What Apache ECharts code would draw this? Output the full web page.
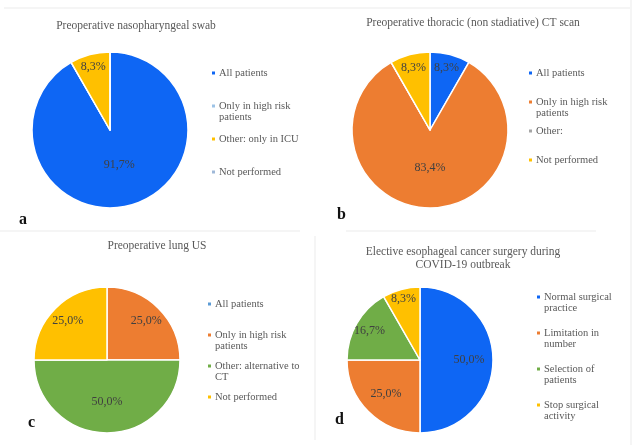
<!DOCTYPE html>
<html>
<head>
<meta charset="utf-8">
<script src="https://cdn.jsdelivr.net/npm/echarts@6/dist/echarts.min.js"></script>
<style>
html,body{margin:0;padding:0;background:#fff;}
#c{width:633px;height:445px;}
</style>
</head>
<body>
<div id="c"></div>
<script>
// ---- data ----
const titleA = 'Preoperative nasopharyngeal swab';
const catA = ['All patients', 'Only in high risk\npatients', 'Other: only in ICU', 'Not performed'];
const valA = [91.7, 0, 8.3, 0];

const titleB = 'Preoperative thoracic (non stadiative) CT scan';
const catB = ['All patients', 'Only in high risk\npatients', 'Other:', 'Not performed'];
const valB = [8.3, 83.4, 0, 8.3];

const titleC = 'Preoperative lung US';
const catC = ['All patients', 'Only in high risk\npatients', 'Other: alternative to\nCT', 'Not performed'];
const valC = [0, 25.0, 50.0, 25.0];

const titleD = 'Elective esophageal cancer surgery during\nCOVID-19 outbreak';
const catD = ['Normal surgical\npractice', 'Limitation in\nnumber', 'Selection of\npatients', 'Stop surgical\nactivity'];
const valD = [50.0, 25.0, 16.7, 8.3];

// ---- styling / layout ----
const FONT = '"Liberation Serif", "Times New Roman", serif';
const BLUE = '#0e66f4', ORANGE = '#ed7d31', YELLOW = '#ffc000', GREEN = '#70ad47';
const LH = 11; // legend line height
const panels = [
  {id: 'a', title: titleA, cats: catA, vals: valA,
   colors: [BLUE, '#9dc3e6', YELLOW, '#9fb8d8'],
   center: [110, 130], r: 78, labelFrac: [0.42, 0.5, 0.8, 0.5],
   legend: {left: 210, firstLine: 73, step: 33},
   titlePos: [136, 19], letter: 'a', letterPos: [19, 212]},
  {id: 'b', title: titleB, cats: catB, vals: valB,
   colors: [BLUE, ORANGE, '#a5a5a5', YELLOW],
   center: [430, 130], r: 78, labelFrac: [0.78, 0.45, 0.5, 0.78],
   legend: {left: 527, firstLine: 73, step: 29},
   titlePos: [473, 16], letter: 'b', letterPos: [337, 207]},
  {id: 'c', title: titleC, cats: catC, vals: valC,
   colors: ['#5b9bd5', ORANGE, GREEN, YELLOW],
   center: [107, 360], r: 73, labelFrac: [0.5, 0.72, 0.53, 0.72],
   legend: {left: 206, firstLine: 304, step: 31},
   titlePos: [157, 239], letter: 'c', letterPos: [28, 415]},
  {id: 'd', title: titleD, cats: catD, vals: valD,
   colors: [BLUE, ORANGE, GREEN, YELLOW],
   center: [420, 360], r: 73, labelFrac: [0.63, 0.62, 0.76, 0.83],
   legend: {left: 535, firstLine: 297, step: 36},
   titlePos: [463, 245], letter: 'd', letterPos: [335, 412]}
];

const fmtPct = v => v.toFixed(1).replace('.', ',') + '%';
const keyName = (p, c) => p.id + '|' + c;

const series = [];
const legends = [];
const graphics = [];

// visible pies first (legend colours come from these)
panels.forEach(p => {
  series.push({
    type: 'pie', silent: true, animation: false,
    center: p.center, radius: [0, p.r],
    startAngle: 90, clockwise: true,
    emphasis: {disabled: true},
    label: {show: false}, labelLine: {show: false},
    itemStyle: {borderColor: '#ffffff', borderWidth: 1.5},
    data: p.cats.map((c, i) => ({name: keyName(p, c), value: p.vals[i],
      itemStyle: {color: p.colors[i]}}))
  });
  // every legend item gets the same 3-line box, with its first text line level with the icon
  legends.push({
    orient: 'vertical', left: p.legend.left, top: p.legend.firstLine - 1.5 * LH,
    itemGap: p.legend.step - 3 * LH, itemWidth: 5, itemHeight: 5, icon: 'rect',
    padding: 0, selectedMode: false,
    data: p.cats.map(c => {
      const lines = c.split('\n').length;
      return {name: keyName(p, c), textStyle: {padding: [LH, 0, LH * (2 - lines), -2]}};
    }),
    formatter: n => n.split('|')[1].split('\n').map(s => '{t|' + s + '}').join('\n'),
    textStyle: {fontFamily: FONT, fontSize: 10.5, color: '#595959', lineHeight: LH,
      rich: {t: {fontFamily: FONT, fontSize: 10.5, color: '#595959', lineHeight: LH}}}
  });
});

// label-only pies (transparent), one per labelled slice
panels.forEach(p => {
  p.vals.forEach((v, k) => {
    if (!(v > 0)) return;
    series.push({
      type: 'pie', silent: true, animation: false,
      center: p.center, radius: [0, 2 * p.labelFrac[k] * p.r],
      startAngle: 90, clockwise: true,
      emphasis: {disabled: true},
      labelLine: {show: false},
      itemStyle: {color: 'rgba(0,0,0,0)', borderWidth: 0},
      data: p.cats.map((c, i) => ({
        name: keyName(p, c), value: p.vals[i],
        label: {show: i === k, position: 'inside',
          formatter: q => fmtPct(q.value),
          fontFamily: FONT, fontSize: 12, color: '#404040'}
      }))
    });
  });
});

// titles and panel letters
panels.forEach(p => {
  graphics.push({type: 'text', x: p.titlePos[0], y: p.titlePos[1], silent: true,
    style: {text: p.title, align: 'center', verticalAlign: 'top', lineHeight: 13,
      font: '11.5px ' + FONT, fill: '#595959'}});
  graphics.push({type: 'text', x: p.letterPos[0], y: p.letterPos[1], silent: true,
    style: {text: p.letter, align: 'left', verticalAlign: 'top',
      font: 'bold 16px ' + FONT, fill: '#111111'}});
});

// faint frame lines
const frameLines = [
  [4, 8, 630, 8], [0, 231, 300, 231], [346, 231, 596, 231],
  [315, 236, 315, 440], [631, 0, 631, 445]
];
frameLines.forEach(l => graphics.push({type: 'line', silent: true,
  shape: {x1: l[0], y1: l[1], x2: l[2], y2: l[3]},
  style: {stroke: '#ebebeb', lineWidth: 1}}));

const chart = echarts.init(document.getElementById('c'), null, {renderer: 'canvas'});
chart.setOption({
  backgroundColor: '#ffffff',
  animation: false,
  legend: legends,
  series: series,
  graphic: graphics
});
</script>
</body>
</html>
